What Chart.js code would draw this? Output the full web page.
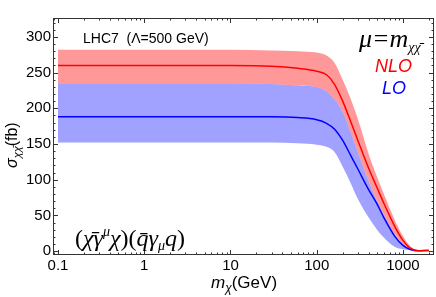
<!DOCTYPE html>
<html>
<head>
<meta charset="utf-8">
<script src="https://cdn.jsdelivr.net/npm/chart.js@4"></script>
<style>
html, body { margin: 0; padding: 0; background: #fff; }
</style>
</head>
<body>
<canvas id="chart" width="436" height="297"></canvas>
<script>
// dark matter mass (GeV)
const masses = [0.1, 1, 10, 30, 60, 100, 130, 160, 200, 250, 300, 400, 500, 600, 800, 1000, 1200, 1500, 2000];

// NLO cross section (fb): central value and scale band
const nloCentral = [260, 260, 260, 259, 256, 252, 247, 234, 210, 180, 155, 116, 89, 67, 35, 15, 4.5, 0.6, 0.8];
const nloHigh    = [282, 282, 282, 281, 280, 278, 274, 264, 240, 212, 185, 136, 104, 80, 44, 21, 7.5, 1.2, 1.0];
const nloLow     = [235, 235, 235, 234, 232, 230, 224, 213, 195, 165, 138, 98, 70, 51, 24, 10, 3, 0.5, 0.7];

// LO cross section (fb): central value and scale band
const loCentral  = [188, 188, 188, 188, 187, 184, 179, 171, 155, 133, 115, 86, 66, 47, 21, 8, 2.5, 0.4, 0.8];
const loHigh     = [235, 235, 235, 234, 232, 230, 224, 213, 195, 165, 138, 98, 70, 51, 24, 10, 3, 0.5, 0.7];
const loLow      = [152, 152, 152, 152, 151, 149, 146, 139, 118, 94, 73, 47, 30, 19, 6, 2.5, 1.2, 0.3, 0.7];

const xTicks = [0.1, 1, 10, 100, 1000];
const yTicks = [0, 50, 100, 150, 200, 250, 300];

const pts = arr => arr.map((v, i) => ({ x: masses[i], y: v }));

const framePlugin = {
    id: 'frame',
    afterDraw(chart) {
        const ctx = chart.ctx;
        const a = chart.chartArea;
        const xs = chart.scales.x;
        const ys = chart.scales.y;

        ctx.save();
        ctx.strokeStyle = '#333';
        ctx.lineWidth = 1;
        ctx.strokeRect(a.left + 0.5, a.top + 0.5, a.right - a.left - 1, a.bottom - a.top - 1);

        // x ticks, bottom and top
        ctx.beginPath();
        for (let d = -2; d <= 3; d++) {
            for (let k = 1; k <= 9; k++) {
                const v = k * Math.pow(10, d);
                if (v < xs.min || v > xs.max) continue;
                const px = Math.round(xs.getPixelForValue(v)) + 0.5;
                const len = k === 1 ? 5 : 2.5;
                ctx.moveTo(px, a.bottom);
                ctx.lineTo(px, a.bottom - len);
                ctx.moveTo(px, a.top);
                ctx.lineTo(px, a.top + len);
            }
        }
        // y ticks, left and right
        for (let v = 0; v <= 320; v += 10) {
            const py = Math.round(ys.getPixelForValue(v)) + 0.5;
            const len = v % 50 === 0 ? 5 : 2.5;
            ctx.moveTo(a.left, py);
            ctx.lineTo(a.left + len, py);
            ctx.moveTo(a.right, py);
            ctx.lineTo(a.right - len, py);
        }
        ctx.stroke();

        ctx.fillStyle = '#000';
        ctx.textBaseline = 'alphabetic';

        // plot label
        ctx.font = '14px "Liberation Sans", Arial, sans-serif';
        ctx.fillText('LHC7  (\u039B=500 GeV)', 83, 43);

        // scale choice
        drawRich(ctx, 359, 47, [
            ['\u03BC=m', 'italic 26px "Liberation Serif", serif', 0],
            ['\u03C7\u03C7\u0304', 'italic 14px "Liberation Serif", serif', 5]
        ], '#000');

        ctx.font = 'italic 18px "Liberation Sans", Arial, sans-serif';
        ctx.fillStyle = '#ff0000';
        ctx.fillText('NLO', 375, 72);
        ctx.fillStyle = '#0000ff';
        ctx.fillText('LO', 382, 94);

        // operator
        const f = 'italic 24px "Liberation Serif", serif';
        const fu = '24px "Liberation Serif", serif';
        const fs = 'italic 14px "Liberation Serif", serif';
        drawRich(ctx, 75, 246, [
            ['(', fu, 0],
            ['\u03C7\u0304\u03B3', f, 0],
            ['\u03BC', fs, -10],
            ['\u03C7', f, 0],
            [')(', fu, 0],
            ['q\u0304\u03B3', f, 0],
            ['\u03BC', fs, 4],
            ['q', f, 0],
            [')', fu, 0]
        ], '#000');

        // x title
        drawRich(ctx, 211, 288, [
            ['m', 'italic 17px "Liberation Sans", Arial, sans-serif', 0],
            ['\u03C7', 'italic 12px "Liberation Sans", Arial, sans-serif', 4],
            ['(GeV)', '17px "Liberation Sans", Arial, sans-serif', 0]
        ], '#000');

        // y title
        ctx.translate(17, 168);
        ctx.rotate(-Math.PI / 2);
        drawRich(ctx, 0, 0, [
            ['\u03C3', 'italic 16px "Liberation Sans", Arial, sans-serif', 0],
            ['\u03C7\u03C7\u0304', 'italic 11px "Liberation Sans", Arial, sans-serif', 4],
            ['(fb)', '16px "Liberation Sans", Arial, sans-serif', 0]
        ], '#000');
        ctx.restore();
    }
};

function drawRich(ctx, x, y, parts, color) {
    ctx.fillStyle = color;
    let cx = x;
    parts.forEach(p => {
        ctx.font = p[1];
        ctx.fillText(p[0], cx, y + p[2]);
        cx += ctx.measureText(p[0]).width;
    });
}

const bandLine = { pointRadius: 0, borderWidth: 0, borderColor: 'rgba(0,0,0,0)', cubicInterpolationMode: 'monotone' };

new Chart(document.getElementById('chart').getContext('2d'), {
    type: 'line',
    data: {
        datasets: [
            { data: pts(nloCentral), borderColor: '#ff0000', borderWidth: 1.5, pointRadius: 0, fill: false, cubicInterpolationMode: 'monotone' },
            { data: pts(loCentral), borderColor: '#0000ff', borderWidth: 1.5, pointRadius: 0, fill: false, cubicInterpolationMode: 'monotone' },
            Object.assign({ data: pts(nloLow), fill: false }, bandLine),
            Object.assign({ data: pts(nloHigh), fill: 2, backgroundColor: 'rgba(255,0,0,0.4)' }, bandLine),
            Object.assign({ data: pts(loLow), fill: false }, bandLine),
            Object.assign({ data: pts(loHigh), fill: 4, backgroundColor: 'rgba(0,0,255,0.37)' }, bandLine)
        ]
    },
    options: {
        responsive: false,
        animation: false,
        devicePixelRatio: 1,
        layout: { padding: { top: 18, right: 2, left: 0, bottom: 0 } },
        plugins: { legend: { display: false }, tooltip: { enabled: false } },
        scales: {
            x: {
                type: 'logarithmic',
                min: 0.0875,
                max: 2290,
                grid: { display: false, drawTicks: false },
                border: { display: false },
                afterBuildTicks: s => { s.ticks = xTicks.map(v => ({ value: v })); },
                afterFit: s => { s.height = 42; },
                ticks: {
                    autoSkip: false,
                    maxRotation: 0,
                    padding: 2,
                    color: '#000',
                    font: { family: '"Liberation Sans", Arial, sans-serif', size: 15 },
                    callback: v => String(v)
                }
            },
            y: {
                min: -5.5,
                max: 326.5,
                grid: { display: false, drawTicks: false },
                border: { display: false },
                afterBuildTicks: s => { s.ticks = yTicks.map(v => ({ value: v })); },
                afterFit: s => { s.width = 53; },
                ticks: {
                    padding: 2,
                    color: '#000',
                    font: { family: '"Liberation Sans", Arial, sans-serif', size: 15 }
                }
            }
        }
    },
    plugins: [framePlugin]
});
</script>
</body>
</html>
